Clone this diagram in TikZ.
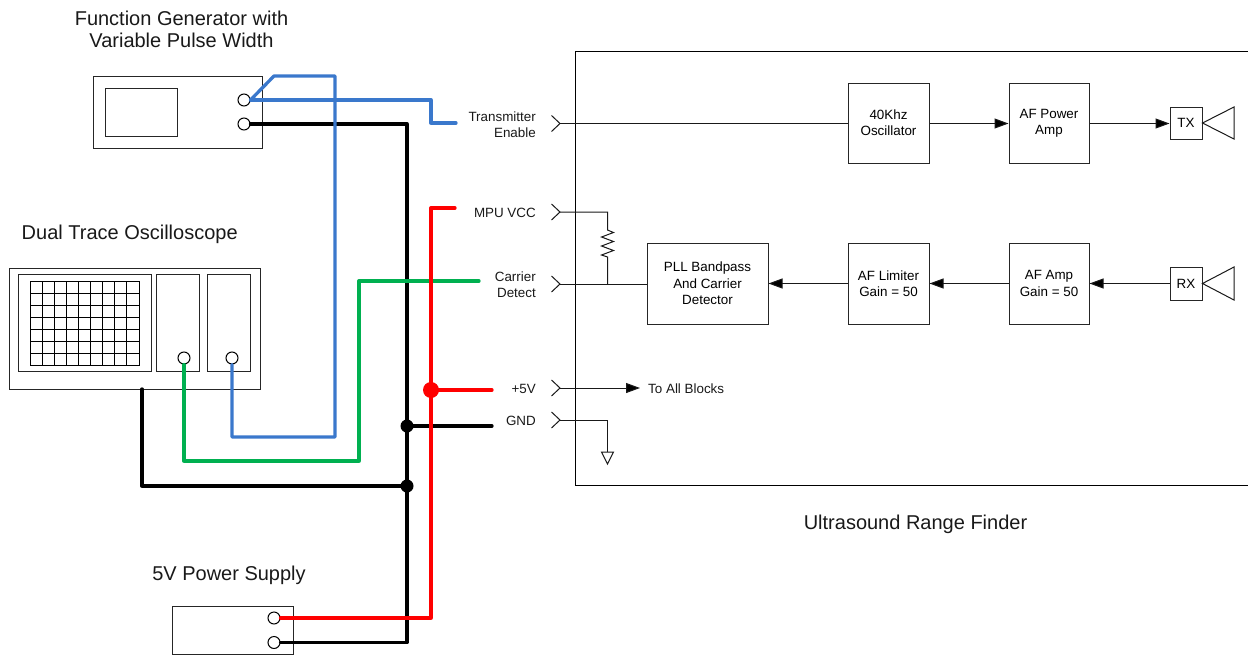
\documentclass[tikz,border=0pt]{standalone}
\usepackage{fontspec}
\setmainfont{Liberation Sans}
\usetikzlibrary{arrows.meta,calc}
\definecolor{wblue}{HTML}{3A78CC}
\definecolor{wgreen}{HTML}{00B050}
\definecolor{wred}{HTML}{FF0000}
\tikzset{
  inst/.style={draw=black!85,line width=1pt,inner sep=0pt,fill=none},
  blockbox/.style={draw=black!85,line width=1pt,inner sep=0pt,align=center,font=\fontsize{13.4}{16.3}\selectfont},
  bigtext/.style={align=center,inner sep=0pt,font=\fontsize{20}{22}\selectfont,text=black!90},
  smalltext/.style={align=center,inner sep=0pt,font=\fontsize{13.4}{16}\selectfont,text=black!90},
  portlabel/.style={align=right,anchor=east,inner sep=0pt,font=\fontsize{13.4}{16}\selectfont,text=black!90},
  jack/.style={circle,draw=black,fill=white,line width=1pt,minimum size=12pt,inner sep=0pt},
  thinwire/.style={draw=black!90,line width=1pt,line join=miter},
  sigarrow/.style={thinwire,-{Triangle[length=14pt,width=10pt,fill=black]}},
  wire/.style={line width=3.3pt,line join=round,line cap=round},
  dotb/.style={circle,fill=black,minimum size=13pt,inner sep=0pt},
  dotr/.style={circle,fill=wred,minimum size=16pt,inner sep=0pt},
}
\begin{document}
\begin{tikzpicture}[x=1pt,y=-1pt]
\useasboundingbox (0,0) rectangle (1248,656);
% titles
\node[bigtext] (tfg) at (181.5,29) {Function Generator with\\Variable Pulse Width};
\node[bigtext] (tos) at (129.7,234) {Dual Trace Oscilloscope};
\node[bigtext] (tps) at (229,575.5) {5V Power Supply};
\node[bigtext] (turf) at (915.5,524.5) {Ultrasound Range Finder};
% function generator
\node[inst,minimum width=169pt,minimum height=72pt] (fg) at (177.5,112) {};
\node[inst,minimum width=72.5pt,minimum height=48pt] (fgs) at (141.7,112) {};
\node[jack] (fg1) at (244,100) {};
\node[jack] (fg2) at (244,124) {};
% oscilloscope
\node[inst,minimum width=251pt,minimum height=120.5pt] (os) at (134.5,328.8) {};
\node[inst,minimum width=133pt,minimum height=96.5pt] (osp) at (84.5,322.8) {};
\node[inst,minimum width=42.5pt,minimum height=96.5pt] (ch1) at (178,322.8) {};
\node[inst,minimum width=42.5pt,minimum height=96.5pt] (ch2) at (229,322.8) {};
\draw[draw=black,line width=1pt] (30,281) rectangle (139,365);
\foreach \i in {1,...,8} \draw[draw=black,line width=1pt] ({30+\i*109/9},281) -- ({30+\i*109/9},365);
\foreach \j in {1,...,6} \draw[draw=black,line width=1pt] (30,{281+\j*12}) -- (139,{281+\j*12});
\node[jack] (j1) at (184,358) {};
\node[jack] (j2) at (232,358) {};
% supply
\node[inst,minimum width=121pt,minimum height=48pt] (ps) at (232.5,630) {};
\node[jack] (p1) at (274,618) {};
\node[jack] (p2) at (274,642.5) {};
% main box
\node[draw=black,line width=1pt,inner sep=0pt,minimum width=673pt,minimum height=434pt] (main) at (911.5,268) {};
% ports
\foreach \n/\y in {te/123.5,mv/212,cd/284,pv/388,gn/420}{
  \coordinate (\n) at (560,\y);
  \draw[thinwire] (551.5,\y-8) -- (\n) -- (551.5,\y+8);
}
\node[portlabel] (lte) at (536,124.5) {Transmitter\\Enable};
\node[portlabel] (lmv) at (536,212.5) {MPU VCC};
\node[portlabel] (lcd) at (536,285) {Carrier\\Detect};
\node[portlabel] (lpv) at (536,389) {+5V};
\node[portlabel] (lgn) at (536,420.5) {GND};
% blocks
\node[blockbox,minimum width=81pt,minimum height=80pt] (osc) at (888.5,123) {40Khz\\Oscillator};
\node[blockbox,minimum width=80pt,minimum height=80pt] (pa) at (1049,123) {AF Power\\Amp};
\node[blockbox,minimum width=32pt,minimum height=32pt] (tx) at (1186,123) {TX};
\node[blockbox,minimum width=121pt,minimum height=81pt] (pll) at (707.5,283.5) {PLL Bandpass\\And Carrier\\Detector};
\node[blockbox,minimum width=81pt,minimum height=81pt] (lim) at (888.5,283.5) {AF Limiter\\Gain = 50};
\node[blockbox,minimum width=80pt,minimum height=81pt] (amp) at (1049,283.5) {AF Amp\\Gain = 50};
\node[blockbox,minimum width=32pt,minimum height=33pt] (rx) at (1186,283.5) {RX};
% horns
\draw[thinwire] (tx.east) -- (1234,107) -- (1234,139) -- cycle;
\draw[thinwire] (rx.east) -- (1234,267) -- (1234,300) -- cycle;
% signal connections
\draw[thinwire] (te) -- (osc.west |- te);
\draw[sigarrow] (osc.east |- te) -- (pa.west |- te);
\draw[sigarrow] (pa.east |- te) -- (tx.west |- te);
\draw[sigarrow] (rx.west) -- (amp.east);
\draw[sigarrow] (amp.west) -- (lim.east);
\draw[sigarrow] (lim.west) -- (pll.east);
\draw[thinwire] (cd) -- (pll.west |- cd);
% resistor
\coordinate (rt) at (607.5,230);
\coordinate (rb) at (607.5,257);
\coordinate (rj) at (607.5,284);
\draw[thinwire] (mv) -| (rt) -- ++(6,2.5) -- ++(-12,4.5) -- ++(12,4.5) -- ++(-12,4.5) -- ++(12,4.5) -- ++(-12,4.5) -- (rb) -- (rj);
% +5V
\node[smalltext,anchor=west] (blk) at (648,388.5) {To All Blocks};
\draw[sigarrow] (pv) -- (640,388);
% ground
\coordinate (gt) at (607.5,452);
\draw[thinwire] (gn) -| (gt);
\draw[thinwire] (601.5,452) -- (613.5,452) -- (607.5,464) -- cycle;
% external wires
\coordinate (bj) at (407,426);
\coordinate (bk) at (407,486);
\coordinate (rd) at (431,390);
\draw[wire,black] (fg2.east) -- (407,124) -- (407,642.5) -- (p2.east);
\draw[wire,black] (bj) -- (492,426);
\draw[wire,black] (142,389) -- (142,486) -- (bk);
\draw[wire,wgreen] (j1.south) -- (184,461) -- (359,461) -- (359,281) -- (479,281);
\draw[wire,wblue] (fg1.east) -- (274,76) -- (335,76) -- (335,437) -- (232,437) -- (j2.south);
\draw[wire,wblue] (fg1.east) -- (431,100) -- (431,123) -- (456,123);
\draw[wire,wred] (p1.east) -- (431,618) -- (431,208) -- (455,208);
\draw[wire,wred] (rd) -- (492,390);
\node[dotb] (dj) at (bj) {};
\node[dotb] (dk) at (bk) {};
\node[dotr] (dr) at (rd) {};
\end{tikzpicture}
\end{document}
